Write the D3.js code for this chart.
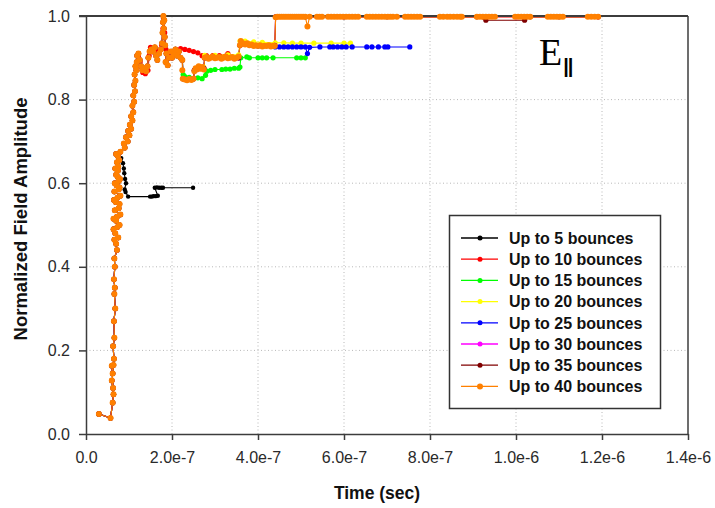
<!DOCTYPE html>
<html>
<head>
<meta charset="utf-8">
<script src="https://cdn.jsdelivr.net/npm/d3@7"></script>
<style>
body { margin: 0; background: #fff; }
text { font-family: "Liberation Sans", Arial, sans-serif; }
</style>
</head>
<body>
<svg></svg>
<script>
// times are in units of 1e-7 s, values are normalized amplitude
const xTickValues = [0, 2e-7, 4e-7, 6e-7, 8e-7, 1e-6, 1.2e-6, 1.4e-6]
const xTickLabels = ["0.0", "2.0e-7", "4.0e-7", "6.0e-7", "8.0e-7", "1.0e-6", "1.2e-6", "1.4e-6"]
const yTickValues = [0, 0.2, 0.4, 0.6, 0.8, 1.0]
const yTickLabels = ["0.0", "0.2", "0.4", "0.6", "0.8", "1.0"]

const seriesNames = ["Up to 5 bounces", "Up to 10 bounces", "Up to 15 bounces", "Up to 20 bounces",
  "Up to 25 bounces", "Up to 30 bounces", "Up to 35 bounces", "Up to 40 bounces"]
const seriesColors = ["#000000", "#ff0000", "#00ff00", "#ffff00", "#0000ff", "#ff00ff", "#800000", "#ff8000"]

// early rise, common to every series
const rise = [[0.30,0.048],[0.57,0.038],[0.62,0.075],[0.64,0.095],[0.60,0.128],[0.63,0.11],[0.60,0.163],
  [0.64,0.165],[0.62,0.145],[0.65,0.18],[0.63,0.21],[0.66,0.23],[0.65,0.27],[0.68,0.30],[0.66,0.335],
  [0.67,0.35],[0.65,0.37],[0.67,0.40],[0.66,0.42],[0.72,0.44],[0.70,0.455],[0.66,0.465],[0.75,0.47],
  [0.68,0.48],[0.64,0.49],[0.73,0.495],[0.78,0.50],[0.70,0.51],[0.64,0.515],[0.72,0.52],[0.80,0.525],
  [0.67,0.535],[0.76,0.54],[0.78,0.55],[0.69,0.555],[0.65,0.56],[0.73,0.565],[0.80,0.57],[0.66,0.58],
  [0.76,0.585],[0.78,0.59],[0.71,0.595],[0.67,0.60],[0.76,0.605],[0.79,0.61],[0.74,0.615],[0.70,0.62]]
// climb to the plateau, shared by 10..40 bounces
const climb = [[0.74,0.63],[0.68,0.635],[0.75,0.64],[0.72,0.65],[0.77,0.655],[0.74,0.665],[0.70,0.67],
  [0.80,0.675],[0.90,0.685],[0.88,0.695],[0.97,0.70],[0.93,0.71],[1.01,0.715],[0.98,0.725],[1.05,0.73],
  [1.02,0.74],[1.08,0.75],[1.05,0.76],[1.10,0.77],[1.08,0.785],[1.12,0.795],[1.10,0.81],[1.14,0.82],
  [1.12,0.835],[1.15,0.845],[1.13,0.86],[1.17,0.87],[1.15,0.88],[1.18,0.89],[1.19,0.905]]
// plateau cloud with the spike, shared by 15..40 bounces
const cloud = [[1.22,0.91],[1.25,0.895],[1.28,0.88],[1.31,0.87],[1.36,0.875],[1.40,0.868],[1.43,0.88],
  [1.45,0.9],[1.48,0.915],[1.52,0.92],[1.56,0.915],[1.60,0.925],[1.63,0.905],[1.66,0.895],[1.70,0.91],
  [1.74,0.92],[1.77,0.935],[1.78,0.96],[1.79,0.985],[1.80,1.0],[1.82,0.99],[1.81,0.97],[1.83,0.95],
  [1.84,0.93],[1.87,0.91],[1.85,0.89],[1.90,0.882],[1.93,0.9],[1.97,0.915],[2.00,0.9],[2.04,0.91],
  [2.08,0.92],[2.12,0.905],[2.16,0.915],[2.20,0.9],[2.24,0.895]]

const tail5 = [[0.78,0.672],[0.82,0.66],[0.86,0.648],[0.88,0.635],[0.89,0.624],[0.91,0.61],[0.93,0.60],
  [0.90,0.585],[0.92,0.579],[0.98,0.568],[1.49,0.568],[1.53,0.568],[1.57,0.569],[1.62,0.569],[1.67,0.57],
  [1.60,0.589],[1.65,0.59],[1.70,0.589],[1.75,0.589],[1.79,0.589],[2.49,0.589]]
const tail10 = [[1.22,0.905],[1.26,0.89],[1.32,0.865],[1.38,0.862],[1.44,0.87],[1.47,0.905],[1.50,0.925],
  [1.55,0.922],[1.62,0.915],[1.70,0.918],[1.76,0.93],[1.79,0.97],[1.80,0.995],[1.83,0.96],[1.86,0.92],
  [1.92,0.91],[2.00,0.915],[2.10,0.918],[2.20,0.922],[2.3,0.92],[2.4,0.918],[2.5,0.915],[2.6,0.912],
  [2.7,0.905],[2.8,0.905],[2.95,0.905],[3.1,0.905],[3.3,0.91]]
const tail15 = [[2.26,0.86],[2.3,0.855],[2.4,0.853],[2.5,0.85],[2.6,0.852],[2.7,0.85],[2.78,0.858],
  [2.81,0.868],[2.9,0.87],[3.0,0.872],[3.16,0.872],[3.25,0.873],[3.35,0.873],[3.45,0.875],[3.55,0.875],
  [3.58,0.878],[3.6,0.9],[3.74,0.902],[3.8,0.9],[4.0,0.9],[4.1,0.9],[4.2,0.9],[4.35,0.9],[4.9,0.9],
  [5.0,0.9],[5.1,0.9]]
const tail20 = [[2.26,0.85],[2.5,0.85],[2.52,0.87],[2.74,0.878],[2.76,0.906],[3.0,0.906],[3.3,0.907],
  [3.55,0.907],[3.58,0.94],[3.7,0.94],[3.9,0.938],[4.1,0.937],[4.4,0.936],[4.6,0.936],[4.8,0.935],
  [5.0,0.935],[5.3,0.935],[5.7,0.935],[6.0,0.935],[6.15,0.935]]
const tail25 = [[2.26,0.85],[2.5,0.85],[2.52,0.87],[2.74,0.875],[2.76,0.9],[3.55,0.9],[3.58,0.93],
  [4.0,0.928],[4.4,0.926],[4.5,0.926],[4.6,0.926],[4.7,0.926],[4.8,0.926],[4.9,0.926],[5.0,0.926],
  [5.1,0.926],[5.15,0.91],[5.2,0.925],[5.44,0.926],[5.67,0.926],[5.75,0.926],[5.85,0.926],[5.95,0.926],
  [6.05,0.926],[6.19,0.926],[6.53,0.926],[6.65,0.926],[6.8,0.926],[6.95,0.926],[7.02,0.926],[7.53,0.926]]
const tail30 = [[2.26,0.85],[2.5,0.85],[2.52,0.87],[2.74,0.875],[2.76,0.9],[3.55,0.9],[3.58,0.93],
  [4.39,0.93],[4.41,0.998],[6.0,0.998],[10.0,0.998],[11.91,0.998]]
const tail35 = [[2.26,0.85],[2.5,0.85],[2.52,0.87],[2.74,0.875],[2.76,0.9],[3.55,0.9],[3.58,0.93],
  [4.39,0.93],[4.41,0.998],[5.1,0.998],[6.0,0.998],[7.0,0.998],[9.09,0.998],[9.3,0.99],
  [10.2,0.99],[10.33,0.998],[11.0,0.998],[11.91,0.998]]
const tail40 = [[2.24,0.87],[2.25,0.85],[2.3,0.848],[2.35,0.846],[2.4,0.849],[2.45,0.847],[2.5,0.85],
  [2.52,0.868],[2.55,0.875],[2.58,0.872],[2.62,0.88],[2.66,0.874],[2.7,0.878],[2.74,0.872],[2.76,0.9],
  [2.8,0.902],[2.85,0.898],[2.9,0.9],[2.95,0.903],[3.0,0.899],[3.05,0.9],[3.1,0.902],[3.15,0.898],
  [3.2,0.9],[3.25,0.903],[3.3,0.899],[3.35,0.9],[3.4,0.902],[3.45,0.898],[3.5,0.9],[3.55,0.903],
  [3.58,0.93],[3.6,0.94],[3.65,0.935],[3.7,0.932],[3.75,0.935],[3.8,0.93],[3.85,0.932],[3.9,0.928],
  [3.95,0.93],[4.0,0.928],[4.05,0.93],[4.1,0.927],[4.15,0.929],[4.2,0.928],[4.25,0.93],[4.3,0.927],
  [4.35,0.929],[4.39,0.928],[4.41,0.997],[4.45,0.998],[4.5,0.998],[4.55,0.998],[4.6,0.998],[4.65,0.998],
  [4.7,0.998],[4.75,0.998],[4.8,0.998],[4.85,0.998],[4.9,0.998],[4.95,0.998],[5.0,0.998],[5.05,0.998],
  [5.1,0.998],[5.15,0.975],[5.2,0.998],[5.37,0.998],[5.43,0.998],[5.49,0.998],[5.63,0.998],[5.7,0.998],
  [5.77,0.998],[5.84,0.998],[5.91,0.998],[5.98,0.998],[6.05,0.998],[6.12,0.998],[6.19,0.998],[6.26,0.998],
  [6.33,0.998],[6.53,0.998],[6.6,0.998],[6.67,0.998],[6.74,0.998],[6.81,0.998],[6.88,0.998],[6.95,0.998],
  [7.02,0.998],[7.08,0.998],[7.14,0.998],[7.23,0.998],[7.42,0.998],[7.49,0.998],[7.56,0.998],[7.63,0.998],
  [7.7,0.998],[7.77,0.998],[8.23,0.998],[8.31,0.998],[8.4,0.998],[8.47,0.998],[8.55,0.998],[8.63,0.998],
  [8.7,0.998],[8.74,0.998],[9.09,0.998],[9.16,0.998],[9.23,0.998],[9.3,0.998],[9.37,0.998],[9.44,0.998],
  [9.51,0.998],[9.98,0.998],[10.05,0.998],[10.12,0.998],[10.19,0.998],[10.26,0.998],[10.33,0.998],
  [10.74,0.998],[10.81,0.998],[10.88,0.998],[10.95,0.998],[11.02,0.998],[11.09,0.998],[11.67,0.998],
  [11.75,0.998],[11.83,0.998],[11.91,0.998]]

const seriesData = [
  rise.concat(tail5),
  rise.concat(climb, tail10),
  rise.concat(climb, cloud, tail15),
  rise.concat(climb, cloud, tail20),
  rise.concat(climb, cloud, tail25),
  rise.concat(climb, cloud, tail30),
  rise.concat(climb, cloud, tail35),
  rise.concat(climb, cloud, tail40)
]
const series = seriesNames.map((name, i) => ({name, color: seriesColors[i], values: seriesData[i]}))

const width = 715, height = 508
const svg = d3.select("svg").attr("width", width).attr("height", height)

const x = d3.scaleLinear().domain([0, 1.4e-6]).range([86, 688])
const y = d3.scaleLinear().domain([0, 1]).range([434, 16])
const px = d => x(d[0] * 1e-7)
const py = d => y(d[1])

// dotted grid
svg.append("g").selectAll("line")
  .data(xTickValues.slice(1, -1))
  .join("line")
  .attr("x1", d => x(d)).attr("x2", d => x(d))
  .attr("y1", y(0)).attr("y2", y(1))
  .attr("stroke", "#b8b8b8").attr("stroke-dasharray", "1,2.5")
svg.append("g").selectAll("line")
  .data(yTickValues.slice(1, -1))
  .join("line")
  .attr("x1", x(0)).attr("x2", x(1.4e-6))
  .attr("y1", d => y(d)).attr("y2", d => y(d))
  .attr("stroke", "#b8b8b8").attr("stroke-dasharray", "1,2.5")

const line = d3.line().x(px).y(py)

svg.append("g").selectAll("path")
  .data(series)
  .join("path")
  .attr("d", d => line(d.values))
  .attr("fill", "none")
  .attr("stroke", d => d.color)
  .attr("stroke-width", 1.1)

// frame
const frame = "#3c3c3c"
svg.append("line").attr("x1", 79).attr("x2", 688).attr("y1", 16).attr("y2", 16)
  .attr("stroke", frame).attr("stroke-width", 2)
svg.append("line").attr("x1", 688).attr("x2", 688).attr("y1", 16).attr("y2", 434)
  .attr("stroke", frame).attr("stroke-width", 1.5)

const xAxis = svg.append("g")
  .attr("transform", "translate(0,434)")
  .call(d3.axisBottom(x).tickValues(xTickValues).tickFormat((d, i) => xTickLabels[i])
    .tickSize(6).tickSizeOuter(0).tickPadding(12))
const yAxis = svg.append("g")
  .attr("transform", "translate(86,0)")
  .call(d3.axisLeft(y).tickValues(yTickValues).tickFormat((d, i) => yTickLabels[i])
    .tickSize(7).tickSizeOuter(0).tickPadding(9))
;[xAxis, yAxis].forEach(g => {
  g.select(".domain").attr("stroke", frame).attr("stroke-width", 1.5)
  g.selectAll(".tick line").attr("stroke", frame).attr("stroke-width", 1.5)
  g.selectAll(".tick text").attr("font-size", "16px").attr("fill", "#2a2a2a")
    .attr("font-family", "'Liberation Sans', Arial, sans-serif")
})

// markers
svg.append("g").selectAll("g")
  .data(series)
  .join("g")
  .attr("fill", d => d.color)
  .each(function(s, i) {
    d3.select(this).selectAll("circle")
      .data(s.values)
      .join("circle")
      .attr("cx", px).attr("cy", py)
      .attr("r", i === 0 ? 2.2 : i === 7 ? 3 : 2.6)
  })

// axis titles
svg.append("text")
  .attr("transform", "translate(27,219) rotate(-90)")
  .attr("text-anchor", "middle")
  .attr("font-size", "18.5px").attr("font-weight", "bold").attr("fill", "#111")
  .text("Normalized Field Amplitude")
svg.append("text")
  .attr("x", 377).attr("y", 499)
  .attr("text-anchor", "middle")
  .attr("font-size", "17.5px").attr("font-weight", "bold").attr("fill", "#111")
  .text("Time (sec)")

// E parallel label
const lab = svg.append("text").attr("x", 539).attr("y", 65).attr("fill", "#000")
lab.append("tspan").attr("font-family", "'Liberation Serif', 'Times New Roman', serif")
  .attr("font-size", "38px").text("E")
lab.append("tspan").attr("font-family", "'Liberation Sans', Arial, sans-serif")
  .attr("font-weight", "bold").attr("font-size", "20px").attr("dy", 8).attr("dx", 1)
  .attr("letter-spacing", "-1px").text("||")

// legend
const legend = svg.append("g")
legend.append("rect")
  .attr("x", 449.5).attr("y", 215.5).attr("width", 211).attr("height", 193)
  .attr("fill", "#fff").attr("stroke", "#333").attr("stroke-width", 1.5)
const rows = legend.selectAll("g.row")
  .data(series)
  .join("g")
  .attr("class", "row")
  .attr("transform", (d, i) => `translate(0,${238 + i * 21.2})`)
rows.append("line").attr("x1", 461).attr("x2", 498)
  .attr("stroke", d => d.color).attr("stroke-width", 1.3)
rows.append("circle").attr("cx", 480).attr("r", (d, i) => i === 7 ? 3 : 2.5)
  .attr("fill", d => d.color)
rows.append("text").attr("x", 509).attr("dy", "0.36em")
  .attr("font-size", "16px").attr("font-weight", "bold").attr("fill", "#111")
  .text(d => d.name)
</script>
</body>
</html>
